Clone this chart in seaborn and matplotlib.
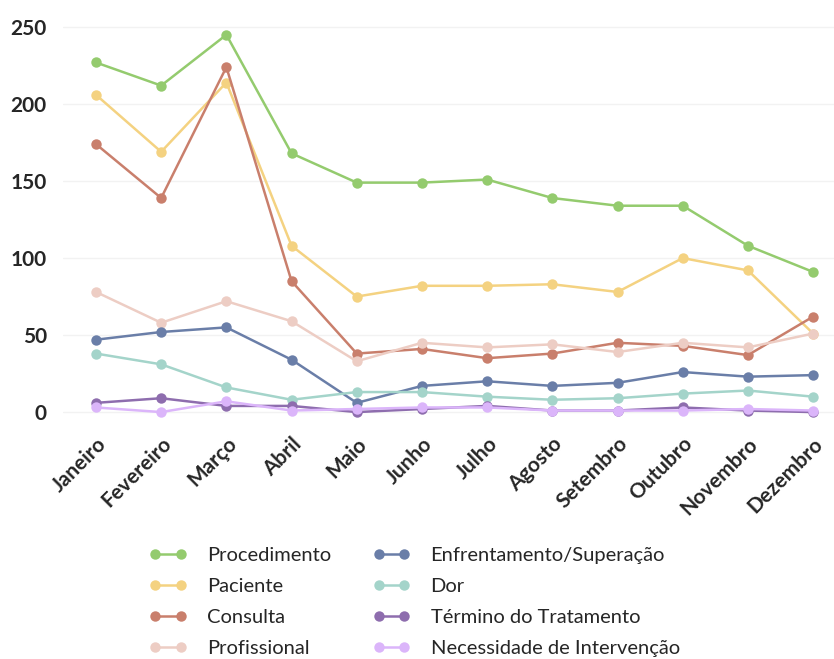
import seaborn as sns
import matplotlib.pyplot as plt
import pandas as pd

# Months (x axis)
meses = ["Janeiro", "Fevereiro", "Março", "Abril", "Maio", "Junho", "Julho",
         "Agosto", "Setembro", "Outubro", "Novembro", "Dezembro"]

# Series values
procedimento = [227, 212, 245, 168, 149, 149, 151, 139, 134, 134, 108, 91]
paciente = [206, 169, 214, 108, 75, 82, 82, 83, 78, 100, 92, 51]
consulta = [174, 139, 224, 85, 38, 41, 35, 38, 45, 43, 37, 62]
profissional = [78, 58, 72, 59, 33, 45, 42, 44, 39, 45, 42, 51]
enfrentamento = [47, 52, 55, 34, 6, 17, 20, 17, 19, 26, 23, 24]
dor = [38, 31, 16, 8, 13, 13, 10, 8, 9, 12, 14, 10]
termino = [6, 9, 4, 4, 0, 2, 4, 1, 1, 3, 1, 0]
necessidade = [3, 0, 7, 1, 2, 3, 3, 1, 1, 1, 2, 1]

series = {
    "Procedimento": procedimento,
    "Paciente": paciente,
    "Consulta": consulta,
    "Profissional": profissional,
    "Enfrentamento/Superação": enfrentamento,
    "Dor": dor,
    "Término do Tratamento": termino,
    "Necessidade de Intervenção": necessidade,
}

cores = {
    "Procedimento": "#94CB6E",
    "Paciente": "#F4D281",
    "Consulta": "#C97F6C",
    "Profissional": "#EDCDC4",
    "Enfrentamento/Superação": "#6A7EA8",
    "Dor": "#A4D4CA",
    "Término do Tratamento": "#8E6DAE",
    "Necessidade de Intervenção": "#DBB5FA",
}

rows = []
for nome, vals in series.items():
    for m, v in zip(meses, vals):
        rows.append({"mes": m, "valor": v, "serie": nome})
df = pd.DataFrame(rows)

sns.set_style("white")
plt.rcParams["font.family"] = ["Lato", "DejaVu Sans"]

fig = plt.figure(figsize=(8.34, 6.59), dpi=100)
ax = fig.add_axes([0.076, 0.363, 0.924, 0.6076])

ordem = list(series.keys())
sns.lineplot(data=df, x="mes", y="valor", hue="serie", hue_order=ordem,
             palette=cores, marker="o", markersize=7.5, markeredgewidth=0,
             linewidth=1.8, sort=False, ax=ax)

ax.set_xlim(-0.5, 11.32)
ax.set_ylim(-5, 255)
ax.set_yticks([0, 50, 100, 150, 200, 250])
ax.set_xlabel("")
ax.set_ylabel("")
ax.yaxis.grid(True, color="#f2f2f2", linewidth=1)
ax.xaxis.grid(False)
for s in ax.spines.values():
    s.set_visible(False)
ax.tick_params(axis="both", length=0, labelsize=15)
ax.tick_params(axis="y", pad=12)
ax.tick_params(axis="x", pad=10)
for lab in ax.get_yticklabels():
    lab.set_fontweight("bold")
for lab in ax.get_xticklabels():
    lab.set_fontweight("bold")
    lab.set_rotation(45)
    lab.set_ha("right")
    lab.set_rotation_mode("anchor")

handles, labels = ax.get_legend_handles_labels()
ax.get_legend().remove()
fig.legend(handles, labels, ncol=2, loc="upper center",
           bbox_to_anchor=(0.497, 0.197), frameon=False, fontsize=14.5,
           numpoints=2, handlelength=1.85, columnspacing=2.1,
           labelspacing=0.68, handletextpad=1.0)

plt.savefig("out.png", dpi=100)
